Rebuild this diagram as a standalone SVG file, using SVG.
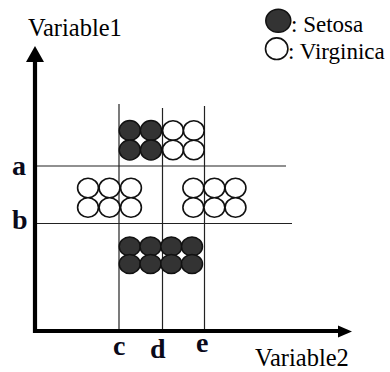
<svg xmlns="http://www.w3.org/2000/svg" width="390" height="372" viewBox="0 0 390 372">
<style>
.grid{stroke:#222;stroke-width:1.2;fill:none}
.s{fill:#333;stroke:#111;stroke-width:1.5}
.v{fill:#fff;stroke:#111;stroke-width:1.6}
</style>
<g id="grid-lines">
<line class="grid" x1="36" y1="166" x2="286" y2="166"/>
<line class="grid" x1="36" y1="223.5" x2="292" y2="223.5"/>
<line class="grid" x1="119" y1="104" x2="119" y2="330"/>
<line class="grid" x1="162.5" y1="108" x2="162.5" y2="330"/>
<line class="grid" x1="204.5" y1="106" x2="204.5" y2="330"/>
</g>
<g id="top-group">
<ellipse class="s" cx="129.8" cy="130.5" rx="10.6" ry="9.9"/>
<ellipse class="s" cx="151" cy="130.5" rx="10.6" ry="9.9"/>
<ellipse class="s" cx="129.8" cy="150" rx="10.6" ry="9.9"/>
<ellipse class="s" cx="151" cy="150" rx="10.6" ry="9.9"/>
<ellipse class="v" cx="173" cy="130.5" rx="10.4" ry="9.7"/>
<ellipse class="v" cx="193.8" cy="130.5" rx="10.4" ry="9.7"/>
<ellipse class="v" cx="173" cy="150" rx="10.4" ry="9.7"/>
<ellipse class="v" cx="193.8" cy="150" rx="10.4" ry="9.7"/>
</g>
<g id="left-group">
<ellipse class="v" cx="88" cy="188" rx="10.4" ry="9.7"/>
<ellipse class="v" cx="109.5" cy="188" rx="10.4" ry="9.7"/>
<ellipse class="v" cx="131" cy="188" rx="10.4" ry="9.7"/>
<ellipse class="v" cx="88" cy="207.5" rx="10.4" ry="9.7"/>
<ellipse class="v" cx="109.5" cy="207.5" rx="10.4" ry="9.7"/>
<ellipse class="v" cx="131" cy="207.5" rx="10.4" ry="9.7"/>
</g>
<g id="right-group">
<ellipse class="v" cx="193.3" cy="188" rx="10.4" ry="9.7"/>
<ellipse class="v" cx="214.4" cy="188" rx="10.4" ry="9.7"/>
<ellipse class="v" cx="235.5" cy="188" rx="10.4" ry="9.7"/>
<ellipse class="v" cx="193.3" cy="207.5" rx="10.4" ry="9.7"/>
<ellipse class="v" cx="214.4" cy="207.5" rx="10.4" ry="9.7"/>
<ellipse class="v" cx="235.5" cy="207.5" rx="10.4" ry="9.7"/>
</g>
<g id="bottom-group">
<ellipse class="s" cx="129.7" cy="246.5" rx="10.5" ry="9.6"/>
<ellipse class="s" cx="150.5" cy="246.5" rx="10.5" ry="9.6"/>
<ellipse class="s" cx="171.3" cy="246.5" rx="10.5" ry="9.6"/>
<ellipse class="s" cx="192" cy="246.5" rx="10.5" ry="9.6"/>
<ellipse class="s" cx="129.7" cy="264" rx="10.5" ry="9.6"/>
<ellipse class="s" cx="150.5" cy="264" rx="10.5" ry="9.6"/>
<ellipse class="s" cx="171.3" cy="264" rx="10.5" ry="9.6"/>
<ellipse class="s" cx="192" cy="264" rx="10.5" ry="9.6"/>
</g>
<g id="axes">
<polyline points="35,60 35,331 340,331" fill="none" stroke="#000" stroke-width="4.2"/>
<polygon points="35,46 26,62 44,62" fill="#000"/>
<polygon points="352,331.5 338,325.5 338,337.5" fill="#000"/>
</g>
<g id="labels" font-family="Liberation Serif, DejaVu Serif, Times New Roman, serif" fill="#000">
<text x="28" y="36" font-size="24.5">Variable1</text>
<text x="255" y="366" font-size="24.5">Variable2</text>
<g font-weight="bold" font-size="28" fill="#0a0a1a">
<text x="12" y="175">a</text>
<text x="12" y="229">b</text>
<text x="113" y="355">c</text>
<text x="150" y="358">d</text>
<text x="196" y="352">e</text>
</g>
</g>
<g id="legend" font-family="Liberation Serif, DejaVu Serif, Times New Roman, serif" fill="#000">
<ellipse class="s" cx="278.3" cy="20.8" rx="12.5" ry="11.5"/>
<text x="291" y="32" font-size="23">: Setosa</text>
<ellipse class="v" cx="276.7" cy="48.7" rx="11.2" ry="10.8"/>
<text x="288" y="59" font-size="23">: Virginica</text>
</g>
</svg>
